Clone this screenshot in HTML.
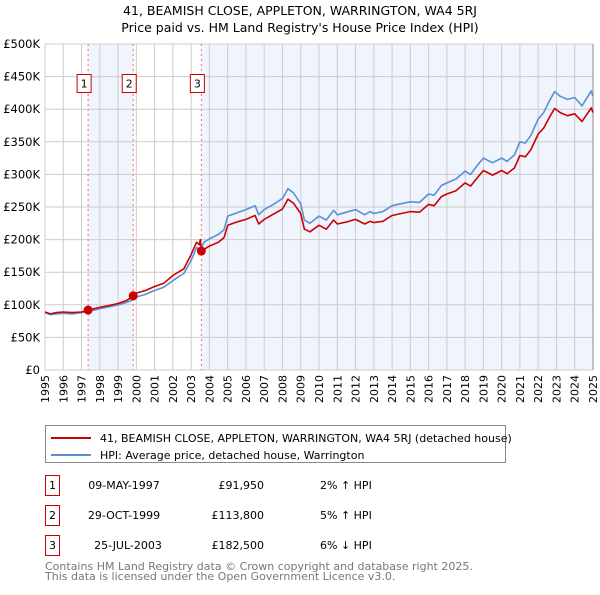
<!DOCTYPE html>
<html><head><meta charset="utf-8"><style>
body{margin:0;background:#fff;font-family:"Liberation Sans","DejaVu Sans",sans-serif;}
svg text{font-family:"DejaVu Sans","Liberation Sans",sans-serif;}
</style></head><body>
<svg id="chart" width="600" height="590" viewBox="0 0 600 590" xmlns="http://www.w3.org/2000/svg">
<text x="300" y="15" text-anchor="middle" font-size="12.5">41, BEAMISH CLOSE, APPLETON, WARRINGTON, WA4 5RJ</text>
<text x="300" y="32" text-anchor="middle" font-size="12.5">Price paid vs. HM Land Registry's House Price Index (HPI)</text>
<g id="plot"></g>
<g>
<rect x="45.5" y="425.5" width="460" height="37" fill="#fff" stroke="#888"/>
<line x1="51" y1="438" x2="91" y2="438" stroke="#cc0000" stroke-width="2"/>
<text x="100" y="442" font-size="11">41, BEAMISH CLOSE, APPLETON, WARRINGTON, WA4 5RJ (detached house)</text>
<line x1="51" y1="455" x2="91" y2="455" stroke="#5b8fd6" stroke-width="2"/>
<text x="100" y="459" font-size="11">HPI: Average price, detached house, Warrington</text>
</g>
<g font-size="11">
<rect x="45.5" y="475.5" width="14" height="20" fill="#fff" stroke="#cc0000"/><text x="52.5" y="489" text-anchor="middle">1</text>
<text x="124" y="489" text-anchor="middle">09-MAY-1997</text><text x="264" y="489" text-anchor="end">£91,950</text><text x="320" y="489">2% ↑ HPI</text>
<rect x="45.5" y="505.5" width="14" height="20" fill="#fff" stroke="#cc0000"/><text x="52.5" y="519" text-anchor="middle">2</text>
<text x="124" y="519" text-anchor="middle">29-OCT-1999</text><text x="264" y="519" text-anchor="end">£113,800</text><text x="320" y="519">5% ↑ HPI</text>
<rect x="45.5" y="535.5" width="14" height="20" fill="#fff" stroke="#cc0000"/><text x="52.5" y="549" text-anchor="middle">3</text>
<text x="128" y="549" text-anchor="middle">25-JUL-2003</text><text x="264" y="549" text-anchor="end">£182,500</text><text x="320" y="549">6% ↓ HPI</text>
</g>
<text x="45" y="570" font-size="11" fill="#777">Contains HM Land Registry data © Crown copyright and database right 2025.</text>
<text x="45" y="580" font-size="11" fill="#777">This data is licensed under the Open Government Licence v3.0.</text>
</svg>
<script>
const yTicks=[0,50,100,150,200,250,300,350,400,450,500];
const yTickLabels=["£0","£50K","£100K","£150K","£200K","£250K","£300K","£350K","£400K","£450K","£500K"];
const xYears=[1995,1996,1997,1998,1999,2000,2001,2002,2003,2004,2005,2006,2007,2008,2009,2010,2011,2012,2013,2014,2015,2016,2017,2018,2019,2020,2021,2022,2023,2024,2025];
const saleDates=[1997.36,1999.83,2003.56];
const salePrices=[91.95,113.8,182.5];
const saleLabels=["1","2","3"];
const hpiDates=[1995,1995.3,1995.6,1996,1996.5,1997,1997.4,1998,1998.5,1999,1999.5,1999.83,2000,2000.5,2001,2001.5,2002,2002.3,2002.6,2003,2003.3,2003.5,2003.7,2004,2004.5,2004.8,2005,2005.5,2006,2006.5,2006.7,2007,2007.5,2008,2008.3,2008.6,2009,2009.2,2009.5,2010,2010.4,2010.8,2011,2011.5,2012,2012.5,2012.8,2013,2013.5,2014,2014.5,2015,2015.5,2016,2016.3,2016.7,2017,2017.5,2018,2018.3,2018.7,2019,2019.5,2020,2020.3,2020.7,2021,2021.3,2021.6,2022,2022.3,2022.6,2022.9,2023.2,2023.6,2024,2024.4,2024.9,2025];
const hpiValues=[88,85,86,87,86,88,90,94,97,100,104,108,112,116,122,127,137,143,148,168,188,184,196,201,208,215,236,241,246,252,238,246,254,263,278,272,255,230,225,236,230,245,238,242,246,238,243,240,243,252,255,258,257,270,268,283,287,293,305,300,315,325,318,325,320,330,350,348,360,385,395,412,427,420,415,418,405,428,420];
const propDates=[1995,1995.3,1995.6,1996,1996.5,1997,1997.36,1998,1998.5,1999,1999.5,1999.83,2000,2000.5,2001,2001.5,2002,2002.3,2002.6,2003,2003.3,2003.45,2003.5,2003.56,2004,2004.5,2004.8,2005,2005.5,2006,2006.5,2006.7,2007,2007.5,2008,2008.3,2008.6,2009,2009.2,2009.5,2010,2010.4,2010.8,2011,2011.5,2012,2012.5,2012.8,2013,2013.5,2014,2014.5,2015,2015.5,2016,2016.3,2016.7,2017,2017.5,2018,2018.3,2018.7,2019,2019.5,2020,2020.3,2020.7,2021,2021.3,2021.6,2022,2022.3,2022.6,2022.9,2023.2,2023.6,2024,2024.4,2024.9,2025];
const propValues=[89,86,88,89,88,89,91.95,96,99,102,107,113.8,118,122,128,133,145,150,155,177,196,192,200,182.5,190,196,203,222,227,231,237,224,231,239,247,262,256,240,216,212,222,216,230,224,227,231,224,228,226,228,237,240,243,242,254,252,266,270,275,287,282,296,306,299,306,301,310,329,327,338,362,371,387,401,395,390,393,381,402,395];

const NS="http://www.w3.org/2000/svg";
const X0=45,X1=593,Y0=370,Y1=44;
const xS=d=>X0+(d-1995)*(X1-X0)/30;
const yS=v=>Y0-v*(Y0-Y1)/500;
const g=document.getElementById('plot');
function mk(t,a,p){const e=document.createElementNS(NS,t);for(const k in a)e.setAttribute(k,a[k]);(p||g).appendChild(e);return e;}
let s1=mk('rect',{x:xS(saleDates[0]),y:Y1,width:xS(saleDates[1])-xS(saleDates[0]),height:Y0-Y1,fill:'#f0f4fc'});


let s2=mk('rect',{x:xS(saleDates[2]),y:Y1,width:X1-xS(saleDates[2]),height:Y0-Y1,fill:'#f0f4fc'});


xYears.forEach(yr=>{
 let l=mk('line',{x1:xS(yr),x2:xS(yr),y1:Y1,y2:Y0,stroke:'#cccccc','stroke-width':1});
 
 
 let t=mk('text',{x:0,y:0,'font-size':11,'text-anchor':'end',transform:`translate(${xS(yr)+4},375) rotate(-90)`});
 
 
 t.textContent=yr;
});
yTicks.forEach((v,i)=>{
 let l=mk('line',{x1:X0,x2:X1,y1:yS(v),y2:yS(v),stroke:'#cccccc','stroke-width':1});
 
 
 let t=mk('text',{x:40,y:yS(v)+4,'font-size':11.5,'text-anchor':'end'});
 
 
 t.textContent=yTickLabels[i];
});
let endl=mk('line',{x1:X1,x2:X1,y1:Y1,y2:Y0,stroke:'#888','stroke-width':1});


saleDates.forEach((d,i)=>{
 let l=mk('line',{x1:xS(d),x2:xS(d),y1:Y1,y2:Y0,stroke:'#ff6666','stroke-width':1,'stroke-dasharray':'2,3'});
 
 
});
function path(ds,vs,col,name){
 let d=ds.map((x,i)=>(i?'L':'M')+xS(x).toFixed(1)+','+yS(vs[i]).toFixed(1)).join('');
 let p=mk('path',{d:d,fill:'none',stroke:col,'stroke-width':1.6,'stroke-linejoin':'round'});
 
 
}
path(hpiDates,hpiValues,'#5b8fd6','hpi-line');
path(propDates,propValues,'#cc0000','property-line');
saleDates.forEach((d,i)=>{
 let c=mk('circle',{cx:xS(d),cy:yS(salePrices[i]),r:4.5,fill:'#cc0000'});
 
 
 let b=mk('rect',{x:xS(d)-11,y:74.5,width:14,height:18,fill:'#fff',stroke:'#cc0000'});
 
 
 let t=mk('text',{x:xS(d)-4,y:87.5,'font-size':11,'text-anchor':'middle'});
 
 
 t.textContent=saleLabels[i];
});
</script>
</body></html>
